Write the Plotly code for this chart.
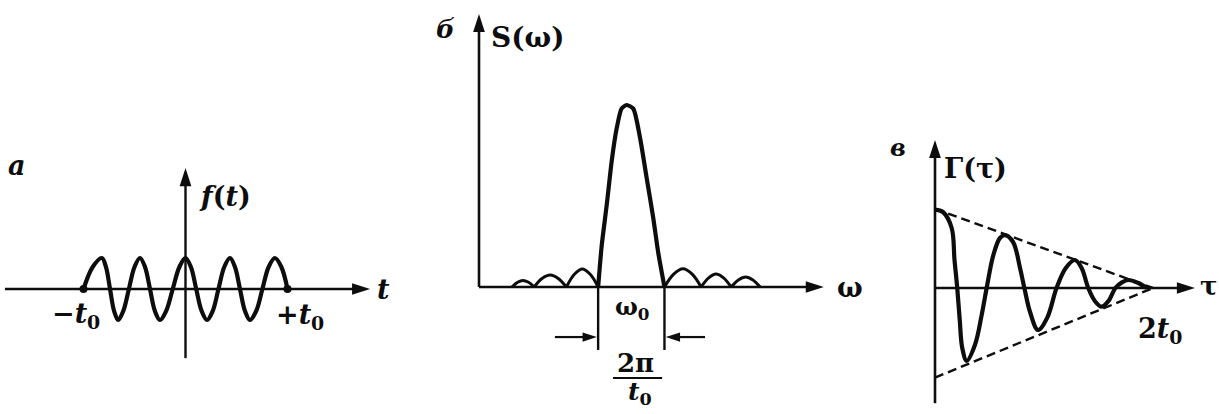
import plotly.graph_objects as go

W, H = 1219, 414
INK = "#0d0d0d"
FONT = "DejaVu Serif"

# ---- а: radio pulse f(t); time in units of t0, amplitude normalised ----
t_pulse = [-1.00, -0.91, -0.82, -0.78, -0.74, -0.70, -0.66, -0.61, -0.555,
           -0.50, -0.446, -0.397, -0.348, -0.30, -0.25, -0.19, -0.125, -0.06,
           0.0, 0.053, 0.105, 0.158, 0.211, 0.267, 0.323, 0.38, 0.436, 0.485,
           0.534, 0.583, 0.632, 0.693, 0.754, 0.815, 0.877, 0.94, 1.00]
f_pulse = [0, 0.71, 1, 0.71, 0, -0.71, -1, -0.71, 0,
           0.71, 1, 0.71, 0, -0.71, -1, -0.71, 0, 0.71,
           1, 0.71, 0, -0.71, -1, -0.71, 0, 0.71, 1, 0.71,
           0, -0.71, -1, -0.71, 0, 0.71, 1, 0.71, 0]
t_ends = [-1.0, 1.0]

# ---- б: amplitude spectrum S(ω) ----
w_main = [3.61, 3.72, 3.87, 4.02, 4.17, 4.32, 4.475, 4.675, 4.88, 5.08,
          5.28, 5.43, 5.62]
s_main = [0, 0.23, 0.45, 0.69, 0.87, 0.98, 1.0, 0.98, 0.82, 0.60,
          0.38, 0.19, 0]
side_lobes_w = [
    [1.00, 1.17, 1.33, 1.50, 1.67],
    [1.67, 1.91, 2.16, 2.40, 2.65],
    [2.65, 2.89, 3.13, 3.37, 3.61],
    [5.62, 5.90, 6.18, 6.46, 6.73],
    [6.73, 6.96, 7.18, 7.41, 7.64],
    [7.64, 7.86, 8.08, 8.30, 8.52],
]
side_lobes_s = [
    [0, 0.026, 0.036, 0.026, 0],
    [0, 0.047, 0.066, 0.047, 0],
    [0, 0.070, 0.099, 0.070, 0],
    [0, 0.071, 0.100, 0.071, 0],
    [0, 0.050, 0.071, 0.050, 0],
    [0, 0.039, 0.055, 0.039, 0],
]

# ---- в: autocorrelation Γ(τ); τ in units of t0 ----
tau = [0, 0.073, 0.153, 0.179, 0.204, 0.227, 0.25, 0.291, 0.367, 0.428,
       0.474, 0.535, 0.596, 0.642, 0.716, 0.78, 0.82, 0.872, 0.945, 1.03,
       1.115, 1.20, 1.284, 1.345, 1.406, 1.468, 1.529, 1.59, 1.655, 1.715,
       1.774, 1.86, 1.942]
gamma = [0.98, 0.95, 0.75, 0.35, 0, -0.40, -0.75, -0.91, -0.71, -0.34,
         0, 0.41, 0.625, 0.66, 0.575, 0.25, 0, -0.30, -0.525, -0.37,
         0, 0.25, 0.35, 0.25, 0, -0.165, -0.234, -0.165, 0, 0.07,
         0.10, 0.065, 0]
env_tau = [0, 2.0]
env_upper = [0.99, 0]
env_lower = [-1.12, 0]


def frame(px_left, px_right, px0, py0, sx, sy):
    """Axis domain/ranges so that (px0, py0) is the origin, sx/sy px per unit."""
    return dict(
        xdom=[px_left / W, px_right / W],
        xr=[(px_left - px0) / sx, (px_right - px0) / sx],
        yr=[(py0 - H) / sy, py0 / sy],
    )


fa = frame(0, 405, 185.5, 289, 102, 31)
fb = frame(405, 880, 479, 287, 33, 182)
fc = frame(880, 1219, 935, 288, 109, 80)

fig = go.Figure()


def arrow_axis(x, y, xa, ya, size=19, width=2.6):
    fig.add_trace(go.Scatter(
        x=x, y=y, xaxis=xa, yaxis=ya, mode="lines+markers",
        line=dict(color=INK, width=width),
        marker=dict(symbol="arrow", size=[0, size], color=INK, opacity=1,
                    angleref="previous", line=dict(width=0)),
        hoverinfo="skip", showlegend=False))


def curve(x, y, xa, ya, width=4, dash="solid", shape="spline", smoothing=0.8):
    fig.add_trace(go.Scatter(
        x=x, y=y, xaxis=xa, yaxis=ya, mode="lines",
        line=dict(color=INK, width=width, dash=dash, shape=shape,
                  smoothing=smoothing),
        hoverinfo="skip", showlegend=False))


# panel а
arrow_axis([-1.77, 1.81], [0, 0], "x", "y")
arrow_axis([0, 0], [-2.23, 3.9], "x", "y", width=2.4)
curve(t_pulse, f_pulse, "x", "y", width=4.2, smoothing=1.0)
fig.add_trace(go.Scatter(
    x=t_ends, y=[0, 0], xaxis="x", yaxis="y", mode="markers",
    marker=dict(symbol="circle", size=8, color=INK),
    hoverinfo="skip", showlegend=False))

# panel б
arrow_axis([0, 10.45], [0, 0], "x2", "y2")
arrow_axis([0, 0], [0, 1.5], "x2", "y2")
for lw, ls in zip(side_lobes_w, side_lobes_s):
    curve(lw, ls, "x2", "y2", width=3, smoothing=1.0)
curve(w_main, s_main, "x2", "y2", width=4.2, smoothing=0.6)
left_edge, right_edge = w_main[0], w_main[-1]
for e in (left_edge, right_edge):
    curve([e, e], [0, -0.346], "x2", "y2", width=2.4, shape="linear")
arrow_axis([2.30, left_edge - 0.04], [-0.275, -0.275], "x2", "y2", size=15, width=2.2)
arrow_axis([6.85, right_edge + 0.04], [-0.275, -0.275], "x2", "y2", size=15, width=2.2)
fig.add_shape(type="line", xref="x2", yref="y2", x0=4.06, x1=5.55,
              y0=-0.5, y1=-0.5, line=dict(color=INK, width=2))

# panel в
arrow_axis([0, 2.385], [0, 0], "x3", "y3")
arrow_axis([0, 0], [-1.44, 1.85], "x3", "y3", width=2.6)
curve(env_tau, env_upper, "x3", "y3", width=2.4, dash="9px,5px", shape="linear")
curve(env_tau, env_lower, "x3", "y3", width=2.4, dash="9px,5px", shape="linear")
curve(tau, gamma, "x3", "y3", width=4.2, smoothing=1.0)


def label(text, x, y, ref, size=27, italic=False):
    fig.add_annotation(
        text=text, x=x, y=y, xref=ref[0], yref=ref[1], showarrow=False,
        xanchor="center", yanchor="middle",
        font=dict(family=FONT, size=size, color=INK, weight="bold",
                  style="italic" if italic else "normal"))


A, B, C = ("x", "y"), ("x2", "y2"), ("x3", "y3")
label("а", -1.65, 4.0, A, size=27, italic=True)
label("<i>f</i>(<i>t</i>)", 0.39, 2.97, A)
label("−<i>t</i><sub>0</sub>", -1.07, -0.87, A)
label("+<i>t</i><sub>0</sub>", 1.12, -0.90, A)
label("<i>t</i>", 1.94, 0.0, A)

label("б", -1.03, 1.42, B, size=26, italic=True)
label("S(ω)", 1.48, 1.37, B, size=28)
label("ω<sub>0</sub>", 4.64, -0.115, B, size=24)
label("ω", 11.24, 0.0, B)
label("2π", 4.73, -0.42, B, size=26)
label("<i>t</i><sub>0</sub>", 4.88, -0.585, B, size=25)

label("в", -0.34, 1.76, C, size=24, italic=True)
label("Γ(τ)", 0.376, 1.50, C)
label("2<i>t</i><sub>0</sub>", 2.06, -0.525, C)
label("τ", 2.51, 0.03, C, size=26)


def ax(f, which):
    d = dict(visible=False, fixedrange=True)
    if which == "x":
        d.update(domain=f["xdom"], range=f["xr"])
    else:
        d.update(domain=[0, 1], range=f["yr"])
    return d


fig.update_layout(
    width=W, height=H, margin=dict(l=0, r=0, t=0, b=0),
    paper_bgcolor="white", plot_bgcolor="white", showlegend=False,
    xaxis=ax(fa, "x"), yaxis={**ax(fa, "y"), "anchor": "x"},
    xaxis2={**ax(fb, "x"), "anchor": "y2"}, yaxis2={**ax(fb, "y"), "anchor": "x2"},
    xaxis3={**ax(fc, "x"), "anchor": "y3"}, yaxis3={**ax(fc, "y"), "anchor": "x3"},
)

fig.write_html("out.html")
